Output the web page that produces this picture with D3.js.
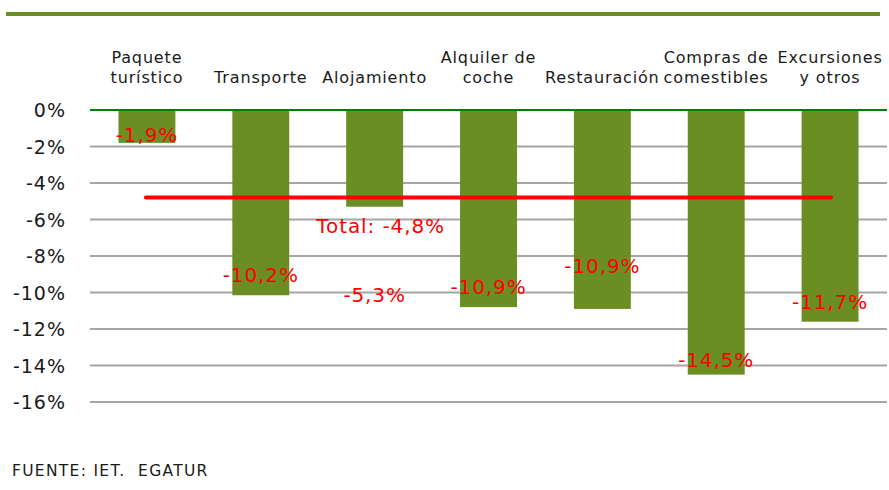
<!DOCTYPE html>
<html><head><meta charset="utf-8">
<script src="https://cdn.jsdelivr.net/npm/d3@7"></script>
<style>
body{margin:0;background:#fff;}
text{font-family:"DejaVu Sans",Verdana,sans-serif;}
</style></head>
<body><svg id="c" width="889" height="490"></svg>
<script>
const categories = [["Paquete","turístico"],["Transporte"],["Alojamiento"],["Alquiler de","coche"],["Restauración"],["Compras de","comestibles"],["Excursiones","y otros"]];
const values = [-1.8, -10.15, -5.3, -10.8, -10.9, -14.5, -11.6];
const labels = ["-1,9%","-10,2%","-5,3%","-10,9%","-10,9%","-14,5%","-11,7%"];
const labelAt = [-1.75, -9.4, -10.5, -10.1, -8.95, -14.1, -10.9];
const totalValue = -4.8;
const totalLabel = "Total: -4,8%";
const yTicks = [0,-2,-4,-6,-8,-10,-12,-14,-16];
const source = "FUENTE: IET.  EGATUR";

const svg = d3.select("#c");
const M = {left:90, right:2, top:110, bottom:88};
const W = 889, H = 490;
const x = d3.scaleBand().domain(d3.range(categories.length)).range([M.left, W-M.right]).paddingInner(0.5).paddingOuter(0.25);
const y = d3.scaleLinear().domain([0,-16]).range([110, 402]);

// top decorative line
svg.append("line").attr("x1",6).attr("x2",880).attr("y1",14).attr("y2",14)
  .attr("stroke","#6b8e23").attr("stroke-width",4);

// gridlines
svg.append("g").selectAll("line").data(yTicks.filter(d=>d!==0)).join("line")
  .attr("x1",M.left).attr("x2",887).attr("y1",d=>y(d)).attr("y2",d=>y(d))
  .attr("stroke","#a6a6a6").attr("stroke-width",2);

// y axis labels
const yAxis = d3.axisLeft(y).tickValues(yTicks).tickFormat(d=>d+"%").tickSize(0).tickPadding(0);
const ga = svg.append("g").attr("transform","translate(66,0)").call(yAxis);
ga.select(".domain").remove();
ga.selectAll("text").attr("font-size",19).attr("fill","#1a1a1a").style("letter-spacing","1px")
  .attr("font-family","DejaVu Sans").attr("dy","0.36em");

// bars
svg.append("g").selectAll("rect").data(values).join("rect")
  .attr("x",(d,i)=>x(i)).attr("width",x.bandwidth())
  .attr("y",y(0)).attr("height",d=>y(d)-y(0)).attr("fill","#6b8e23");

// zero line
svg.append("line").attr("x1",M.left).attr("x2",887).attr("y1",y(0)).attr("y2",y(0))
  .attr("stroke","#008000").attr("stroke-width",2);

// category labels
const cg = svg.append("g");
categories.forEach((c,i)=>{
  const t = cg.append("text").attr("text-anchor","middle").attr("font-size",16)
    .attr("fill","#1a1a1a").style("letter-spacing","0.85px");
  c.forEach((line,j)=>{
    t.append("tspan").attr("x",x(i)+x.bandwidth()/2).attr("y",83 - (c.length-1-j)*20).text(line);
  });
});

// total line
svg.append("line").attr("x1",x(0)+x.bandwidth()/2-1).attr("x2",x(6)+x.bandwidth()/2+1)
  .attr("y1",y(totalValue)).attr("y2",y(totalValue))
  .attr("stroke","#ff0000").attr("stroke-width",4).attr("stroke-linecap","round");

// value labels
svg.append("g").selectAll("text").data(labels).join("text")
  .attr("x",(d,i)=>x(i)+x.bandwidth()/2).attr("y",(d,i)=>y(labelAt[i]))
  .attr("text-anchor","middle").attr("font-size",20).attr("fill","#ff0000")
  .style("letter-spacing","0.9px").text(d=>d);

svg.append("text").attr("x",x(2)+x.bandwidth()/2+6).attr("y",233)
  .attr("text-anchor","middle").attr("font-size",20).attr("fill","#ff0000")
  .style("letter-spacing","0.9px").style("white-space","pre").text(totalLabel);

// source
svg.append("text").attr("x",12).attr("y",476).attr("font-size",15.5).attr("fill","#1a1a1a")
  .style("letter-spacing","1.3px").style("white-space","pre").text(source);
</script></body></html>
